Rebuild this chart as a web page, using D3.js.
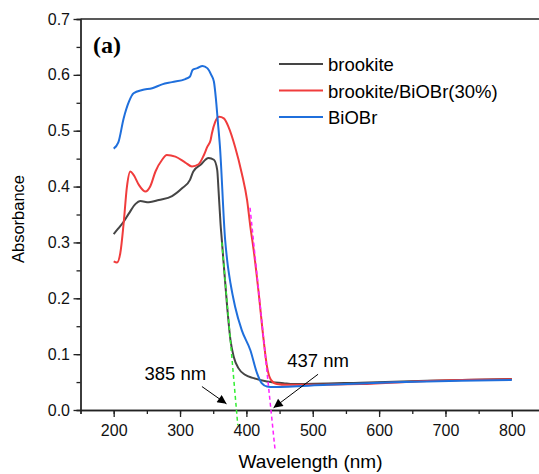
<!DOCTYPE html>
<html>
<head>
<meta charset="utf-8">
<script src="https://cdn.jsdelivr.net/npm/d3@7"></script>
<style>
  body { margin: 0; background: #fff; }
  svg { display: block; font-family: "Liberation Sans", Arial, sans-serif; }
</style>
</head>
<body>
<script>
var width = 539,
    height = 474;

// Data (wavelength nm, absorbance)
var brookiteWl  = [200, 207, 215, 223, 233, 240, 253, 268, 288, 303, 315, 320, 331, 343, 351, 356, 358, 361, 363, 371, 376, 381, 388, 398, 411, 431, 456, 471, 572, 672, 800];
var brookiteAbs = [0.315, 0.325, 0.337, 0.352, 0.369, 0.374, 0.372, 0.376, 0.383, 0.397, 0.412, 0.427, 0.439, 0.451, 0.448, 0.430, 0.394, 0.334, 0.304, 0.185, 0.125, 0.095, 0.075, 0.063, 0.057, 0.051, 0.048, 0.0465, 0.049, 0.0525, 0.0555];

var compositeWl  = [200, 205, 210, 215, 220, 225, 230, 238, 248, 255, 263, 273, 280, 293, 308, 318, 328, 336, 341, 346, 348, 353, 359, 366, 373, 383, 393, 401, 406, 411, 418, 426, 431, 437, 446, 461, 571, 672, 800];
var compositeAbs = [0.266, 0.264, 0.281, 0.334, 0.400, 0.427, 0.421, 0.403, 0.391, 0.400, 0.427, 0.448, 0.4565, 0.4535, 0.443, 0.436, 0.440, 0.4565, 0.471, 0.483, 0.495, 0.516, 0.525, 0.522, 0.507, 0.471, 0.424, 0.376, 0.328, 0.286, 0.215, 0.125, 0.078, 0.054, 0.0465, 0.045, 0.0465, 0.052, 0.055];

var biobrWl  = [200, 207, 215, 223, 230, 243, 258, 273, 288, 308, 315, 319, 326, 334, 341, 347, 351, 354, 357, 360, 368, 371, 376, 383, 393, 406, 416, 423, 431, 441, 521, 622, 722, 800];
var biobrAbs = [0.468, 0.479, 0.522, 0.552, 0.567, 0.573, 0.576, 0.583, 0.587, 0.5925, 0.597, 0.609, 0.612, 0.616, 0.612, 0.600, 0.588, 0.558, 0.516, 0.474, 0.304, 0.2685, 0.227, 0.185, 0.143, 0.107, 0.066, 0.048, 0.042, 0.041, 0.045, 0.0496, 0.0525, 0.0537];

var seriesNames  = ["brookite", "brookite/BiOBr(30%)", "BiOBr"];
var seriesColors = ["#454545", "#f03c3c", "#1f6fdc"];

// Band-edge tangents and their labels
var edgeLabels = ["385 nm", "437 nm"];
var edgeColors = ["#33ee33", "#ff22ff"];
var edgeWl  = [[363, 387], [405.5, 443]];
var edgeAbs = [[0.300, -0.027], [0.362, -0.069]];
var arrowWl  = [[333, 370], [508, 441]];
var arrowAbs = [[0.042, 0.011], [0.064, 0.004]];
var labelWl  = [293, 508];
var labelAbs = [0.053, 0.077];

var xTicks = [200, 300, 400, 500, 600, 700, 800];
var yTicks = [0, 0.1, 0.2, 0.3, 0.4, 0.5, 0.6, 0.7];

var svg = d3.select("body").append("svg")
            .attr("width", width)
            .attr("height", height);

var x = d3.scaleLinear().domain([150, 850]).range([80.5, 545]);
var y = d3.scaleLinear().domain([0, 0.7]).range([410, 19]);

svg.append("defs").append("marker")
  .attr("id", "arrow")
  .attr("viewBox", "0 0 10 10")
  .attr("refX", 10).attr("refY", 5)
  .attr("markerWidth", 11).attr("markerHeight", 9)
  .attr("markerUnits", "userSpaceOnUse")
  .attr("orient", "auto")
  .append("path")
  .attr("d", "M0,0L10,5L0,10z")
  .attr("fill", "#000");

// Minor ticks
svg.append("g")
  .attr("class", "minor")
  .attr("transform", "translate(0,410)")
  .call(d3.axisBottom(x).tickValues(d3.range(150, 851, 50)).tickSize(4).tickFormat(""));

svg.append("g")
  .attr("class", "minor")
  .attr("transform", "translate(80.5,0)")
  .call(d3.axisLeft(y).tickValues(d3.range(0, 0.71, 0.05)).tickSize(4).tickFormat(""));

// Major axes
var xAxis = svg.append("g")
  .attr("transform", "translate(0,410)")
  .call(d3.axisBottom(x).tickValues(xTicks).tickSize(7).tickPadding(8).tickSizeOuter(0));

var yAxis = svg.append("g")
  .attr("transform", "translate(80.5,0)")
  .call(d3.axisLeft(y).tickValues(yTicks).tickSize(7).tickPadding(3.5).tickSizeOuter(0).tickFormat(d3.format(".1f")));

svg.selectAll(".domain, .tick line")
  .attr("stroke", "#222")
  .attr("stroke-width", 1.3);

svg.selectAll(".tick text")
  .attr("font-size", 16)
  .attr("font-family", "Liberation Sans, Arial, sans-serif")
  .attr("fill", "#111");

// top frame line
svg.append("line")
  .attr("x1", x(150)).attr("x2", x(850))
  .attr("y1", y(0.7)).attr("y2", y(0.7))
  .attr("stroke", "#222")
  .attr("stroke-width", 1.3);

// Axis titles
svg.append("text")
  .attr("x", 310.5).attr("y", 468)
  .attr("text-anchor", "middle")
  .attr("font-size", 19)
  .text("Wavelength (nm)");

svg.append("text")
  .attr("transform", "translate(24,219)rotate(-90)")
  .attr("text-anchor", "middle")
  .attr("font-size", 16.5)
  .text("Absorbance");

// Spectra
var series = [
  { wl: brookiteWl, abs: brookiteAbs },
  { wl: compositeWl, abs: compositeAbs },
  { wl: biobrWl, abs: biobrAbs }
];

var line = d3.line()
  .x(function(d) { return x(d[0]); })
  .y(function(d) { return y(d[1]); })
  .curve(d3.curveMonotoneX);

svg.append("g").selectAll("path")
  .data(series)
  .enter()
  .append("path")
  .attr("d", function(s) { return line(d3.zip(s.wl, s.abs)); })
  .attr("fill", "none")
  .attr("stroke", function(s, i) { return seriesColors[i]; })
  .attr("stroke-width", 2);

// Tangent lines
svg.append("g").selectAll("line")
  .data(edgeWl)
  .enter()
  .append("line")
  .attr("x1", function(d) { return x(d[0]); })
  .attr("x2", function(d) { return x(d[1]); })
  .attr("y1", function(d, i) { return y(edgeAbs[i][0]); })
  .attr("y2", function(d, i) { return y(edgeAbs[i][1]); })
  .attr("stroke", function(d, i) { return edgeColors[i]; })
  .attr("stroke-width", 1.5)
  .attr("stroke-dasharray", "4,3");

// Arrows and labels
svg.append("g").selectAll("line")
  .data(arrowWl)
  .enter()
  .append("line")
  .attr("x1", function(d) { return x(d[0]); })
  .attr("x2", function(d) { return x(d[1]); })
  .attr("y1", function(d, i) { return y(arrowAbs[i][0]); })
  .attr("y2", function(d, i) { return y(arrowAbs[i][1]); })
  .attr("stroke", "#000")
  .attr("stroke-width", 1)
  .attr("marker-end", "url(#arrow)");

svg.append("g").selectAll("text")
  .data(edgeLabels)
  .enter()
  .append("text")
  .attr("x", function(d, i) { return x(labelWl[i]); })
  .attr("y", function(d, i) { return y(labelAbs[i]); })
  .attr("text-anchor", "middle")
  .attr("font-size", 18.5)
  .text(function(d) { return d; });

// Panel label
svg.append("text")
  .attr("x", 93).attr("y", 53)
  .attr("font-family", "Liberation Serif, Times New Roman, serif")
  .attr("font-weight", "bold")
  .attr("font-size", 24)
  .text("(a)");

// Legend
var legend = svg.append("g").selectAll("g")
  .data(seriesNames)
  .enter()
  .append("g")
  .attr("transform", function(d, i) { return "translate(279," + (64 + i * 26.5) + ")"; });

legend.append("line")
  .attr("x1", 0).attr("x2", 44)
  .attr("stroke", function(d, i) { return seriesColors[i]; })
  .attr("stroke-width", 2);

legend.append("text")
  .attr("x", 49).attr("y", 7)
  .attr("font-size", 18.5)
  .text(function(d) { return d; });
</script>
</body>
</html>
